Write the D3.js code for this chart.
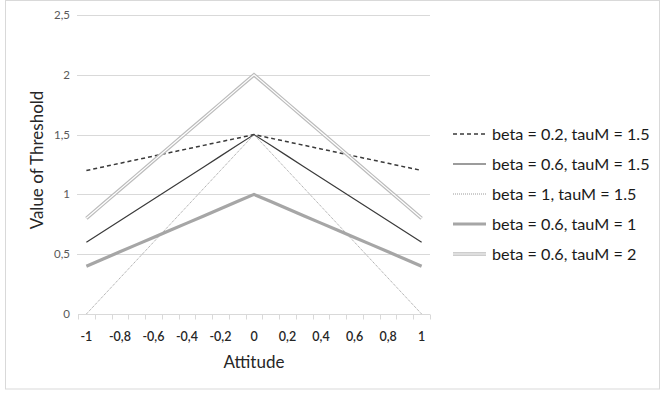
<!DOCTYPE html>
<html>
<head>
<meta charset="utf-8">
<script src="https://cdn.jsdelivr.net/npm/d3@7"></script>
<style>
  html, body { margin: 0; padding: 0; background: #fff; }
  svg { display: block; font-family: Lato, "Open Sans", sans-serif; }
</style>
</head>
<body>
<svg id="chart" width="661" height="395"></svg>
<script>
// Attitude categories (-1 to 1, step 0.1); every other one is labelled
const attitudes = ["-1","-0.9","-0.8","-0.7","-0.6","-0.5","-0.4","-0.3","-0.2","-0.1","0",
                   "0.1","0.2","0.3","0.4","0.5","0.6","0.7","0.8","0.9","1"];
const xTickLabels = ["-1","-0,8","-0,6","-0,4","-0,2","0","0,2","0,4","0,6","0,8","1"];
const yTicks = [0, 0.5, 1, 1.5, 2, 2.5];
const yTickLabels = ["0","0,5","1","1,5","2","2,5"];

const seriesNames = [
  "beta = 0.2, tauM = 1.5",
  "beta = 0.6, tauM = 1.5",
  "beta = 1, tauM = 1.5",
  "beta = 0.6, tauM = 1",
  "beta = 0.6, tauM = 2"
];

const beta02tau15 = [1.2,1.23,1.26,1.29,1.32,1.35,1.38,1.41,1.44,1.47,1.5,
                     1.47,1.44,1.41,1.38,1.35,1.32,1.29,1.26,1.23,1.2];
const beta06tau15 = [0.6,0.69,0.78,0.87,0.96,1.05,1.14,1.23,1.32,1.41,1.5,
                     1.41,1.32,1.23,1.14,1.05,0.96,0.87,0.78,0.69,0.6];
const beta1tau15  = [0,0.15,0.3,0.45,0.6,0.75,0.9,1.05,1.2,1.35,1.5,
                     1.35,1.2,1.05,0.9,0.75,0.6,0.45,0.3,0.15,0];
const beta06tau1  = [0.4,0.46,0.52,0.58,0.64,0.7,0.76,0.82,0.88,0.94,1,
                     0.94,0.88,0.82,0.76,0.7,0.64,0.58,0.52,0.46,0.4];
const beta06tau2  = [0.8,0.92,1.04,1.16,1.28,1.4,1.52,1.64,1.76,1.88,2,
                     1.88,1.76,1.64,1.52,1.4,1.28,1.16,1.04,0.92,0.8];

const seriesValues = [beta02tau15, beta06tau15, beta1tau15, beta06tau1, beta06tau2];

// Stroke styles per series (layers drawn bottom to top)
const styles = [
  [{stroke:"#3a3a3a", width:1.5, dash:"4,3"}],
  [{stroke:"#3a3a3a", width:1.2, dash:null}],
  [{stroke:"#9a9a9a", width:1, dash:"1,1"}],
  [{stroke:"#a6a6a6", width:3.2, dash:null}],
  [{stroke:"#bcbcbc", width:3.6, dash:null}, {stroke:"#ffffff", width:1.2, dash:null}]
];

const svg = d3.select("#chart");

// Outer chart frame
svg.append("rect")
  .attr("x", 5.5).attr("y", 0.5).attr("width", 654).attr("height", 388.5)
  .attr("fill", "#fff").attr("stroke", "#d9d9d9").attr("stroke-width", 1);

const plot = {left: 78, right: 430, top: 15, bottom: 314};

const x = d3.scaleBand().domain(attitudes).range([plot.left, plot.right]).padding(0);
const y = d3.scaleLinear().domain([0, 2.5]).range([plot.bottom, plot.top]);

// Horizontal gridlines
svg.append("g")
  .selectAll("line")
  .data(yTicks.filter(d => d > 0))
  .join("line")
  .attr("x1", plot.left - 1).attr("x2", plot.right)
  .attr("y1", d => Math.round(y(d)) + 0.5).attr("y2", d => Math.round(y(d)) + 0.5)
  .attr("stroke", "#d9d9d9").attr("stroke-width", 1);

// Y tick labels
svg.append("g")
  .selectAll("text")
  .data(yTicks)
  .join("text")
  .attr("x", 70).attr("y", d => y(d))
  .attr("dy", "0.35em")
  .attr("text-anchor", "end")
  .attr("font-size", 11.5)
  .attr("fill", "#595959")
  .text((d, i) => yTickLabels[i]);

// X axis line with ticks at category boundaries
const gx = svg.append("g").attr("transform", `translate(0,${Math.round(plot.bottom) + 0.5})`);
gx.append("line")
  .attr("x1", plot.left).attr("x2", plot.right)
  .attr("stroke", "#d9d9d9");
const boundaries = d3.range(attitudes.length + 1).map(i => plot.left + i * x.bandwidth());
gx.selectAll("line.tick")
  .data(boundaries)
  .join("line")
  .attr("class", "tick")
  .attr("x1", d => Math.round(d) + 0.5).attr("x2", d => Math.round(d) + 0.5)
  .attr("y1", 0).attr("y2", 5)
  .attr("stroke", "#d9d9d9");

// X tick labels (every other category)
const labelled = attitudes.filter((d, i) => i % 2 === 0);
svg.append("g")
  .selectAll("text")
  .data(labelled)
  .join("text")
  .attr("x", d => x(d) + x.bandwidth() / 2)
  .attr("y", 341)
  .attr("text-anchor", "middle")
  .attr("font-size", 12.5)
  .attr("font-weight", 600)
  .attr("fill", "#262626")
  .text((d, i) => xTickLabels[i]);

// Axis titles
svg.append("text")
  .attr("x", 254).attr("y", 368)
  .attr("text-anchor", "middle")
  .attr("font-size", 17)
  .attr("fill", "#262626")
  .text("Attitude");

svg.append("text")
  .attr("transform", "translate(43,160) rotate(-90)")
  .attr("text-anchor", "middle")
  .attr("font-size", 17)
  .attr("fill", "#262626")
  .text("Value of Threshold");

// Series lines
const line = d3.line()
  .x((d, i) => x(attitudes[i]) + x.bandwidth() / 2)
  .y(d => y(d));

const linesG = svg.append("g").attr("fill", "none");
seriesValues.forEach((vals, s) => {
  styles[s].forEach(st => {
    linesG.append("path")
      .datum(vals)
      .attr("d", line)
      .attr("stroke", st.stroke)
      .attr("stroke-width", st.width)
      .attr("stroke-dasharray", st.dash)
      .attr("stroke-linejoin", "miter");
  });
});

// Legend
const legend = svg.append("g");
seriesNames.forEach((name, s) => {
  const ly = 134 + s * 30;
  styles[s].forEach(st => {
    legend.append("line")
      .attr("x1", 453).attr("x2", 486)
      .attr("y1", ly).attr("y2", ly)
      .attr("stroke", st.stroke)
      .attr("stroke-width", st.width)
      .attr("stroke-dasharray", st.dash);
  });
  legend.append("text")
    .attr("x", 492).attr("y", ly)
    .attr("dy", "0.35em")
    .attr("font-size", 16.2)
    .attr("fill", "#1a1a1a")
    .text(name);
});
</script>
</body>
</html>
